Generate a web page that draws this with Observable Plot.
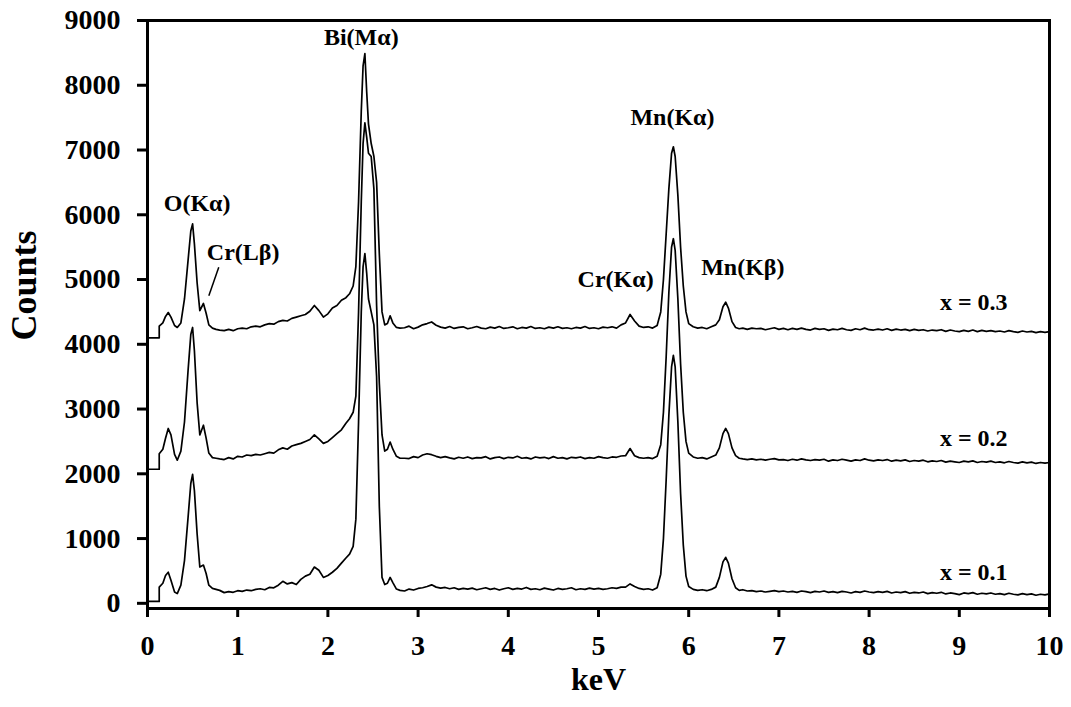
<!DOCTYPE html>
<html>
<head>
<meta charset="utf-8">
<script src="https://cdn.jsdelivr.net/npm/d3@7"></script>
<script src="https://cdn.jsdelivr.net/npm/@observablehq/plot@0.6"></script>
<style>
  html, body { margin: 0; padding: 0; background: #ffffff; }
  #chart svg { display: block; }
</style>
</head>
<body>
<div id="chart"></div>
<script>
// ---- Energy axis (keV), shared by the three spectra ----
const keV = [
  // 0 – 0.8
  0, 0.13, 0.13, 0.17, 0.2, 0.23, 0.26, 0.3, 0.33, 0.37, 0.41, 0.45, 0.48, 0.5, 0.52, 0.55, 0.58, 0.62, 0.65, 0.68, 0.72, 0.76, 0.8,
  // 0.85 – 2.2
  0.85, 0.9, 0.95, 1.0, 1.05, 1.1, 1.15, 1.2, 1.25, 1.3, 1.35, 1.4, 1.45, 1.5, 1.55, 1.6, 1.65, 1.7, 1.75, 1.8, 1.85, 1.9, 1.95, 2.0, 2.05, 2.1, 2.15, 2.2,
  // Bi region
  2.24, 2.28, 2.31, 2.34, 2.37, 2.39, 2.41, 2.43, 2.45, 2.48, 2.51, 2.54, 2.57, 2.6, 2.63, 2.66, 2.69, 2.72, 2.76, 2.8,
  // 2.85 – 5.25
  2.85, 2.9, 2.95, 3.0, 3.05, 3.1, 3.15, 3.2, 3.25, 3.3,
  3.35, 3.4, 3.45, 3.5, 3.55, 3.6, 3.65, 3.7, 3.75, 3.8,
  3.85, 3.9, 3.95, 4.0, 4.05, 4.1, 4.15, 4.2, 4.25, 4.3,
  4.35, 4.4, 4.45, 4.5, 4.55, 4.6, 4.65, 4.7, 4.75, 4.8,
  4.85, 4.9, 4.95, 5.0, 5.05, 5.1, 5.15, 5.2, 5.25,
  // Cr Ka / Mn region
  5.3, 5.35, 5.4, 5.45, 5.5, 5.55, 5.6, 5.65, 5.69, 5.72,
  5.75, 5.78, 5.81, 5.83, 5.85, 5.88, 5.91, 5.94, 5.97, 6.0,
  6.05, 6.1, 6.15, 6.2, 6.25, 6.3, 6.34, 6.38, 6.41, 6.44,
  6.48, 6.52, 6.56, 6.6, 6.65,
  // 6.7 – 10
  6.7, 6.75, 6.8, 6.85, 6.9, 6.95, 7.0, 7.05, 7.1, 7.15,
  7.2, 7.25, 7.3, 7.35, 7.4, 7.45, 7.5, 7.55, 7.6, 7.65,
  7.7, 7.75, 7.8, 7.85, 7.9, 7.95, 8.0, 8.05, 8.1, 8.15,
  8.2, 8.25, 8.3, 8.35, 8.4, 8.45, 8.5, 8.55, 8.6, 8.65,
  8.7, 8.75, 8.8, 8.85, 8.9, 8.95, 9.0, 9.05, 9.1, 9.15,
  9.2, 9.25, 9.3, 9.35, 9.4, 9.45, 9.5, 9.55, 9.6, 9.65,
  9.7, 9.75, 9.8, 9.85, 9.9, 9.95, 10.0
];

// ---- Counts, x = 0.1 ----
const counts01 = [
  30, 30, 250, 310, 430, 480, 355, 175, 150, 280, 660, 1330, 1850, 1990, 1740, 1075, 560, 590, 460, 280, 230, 215, 200,
  165, 180, 170, 195, 185, 205, 195, 215, 225, 210, 245, 240, 280, 340, 300, 320, 290, 370, 420, 450, 560, 510, 400, 430, 480, 540, 620, 700,
  760, 880, 1300, 2800, 4500, 5200, 5400, 5100, 4700, 4500, 4300, 3500, 1500, 400, 290, 310, 400, 320, 220, 200,
  190, 220, 205, 230, 240, 260, 285, 250, 235, 245,
  225, 240, 215, 230, 220, 235, 210, 225, 240, 215,
  230, 205, 225, 240, 215, 230, 220, 245, 215, 225,
  210, 235, 220, 205, 230, 215, 225, 240, 210, 225,
  215, 235, 220, 230, 215, 225, 240, 230, 250,
  250, 300, 260, 230, 215, 225, 205, 240, 450, 1000,
  1900, 2900, 3650, 3830, 3650, 2800, 1700, 900, 420, 260,
  215, 200, 210, 195, 215, 250, 400, 640, 710, 620,
  380, 240, 200, 210, 190,
  195, 180, 190, 175, 185, 195, 180, 190, 175, 185,
  170, 190, 180, 165, 185, 175, 190, 170, 180, 165,
  185, 175, 160, 180, 170, 190, 175, 165, 180, 170,
  185, 160, 175, 165, 180, 155, 170, 160, 175, 150,
  165, 155, 170, 145, 160, 150, 135, 160, 150, 165,
  140, 155, 145, 160, 140, 150, 135, 155, 140, 130,
  150, 135, 145, 125, 140, 130, 145
];

// ---- Counts, x = 0.2 ----
const counts02 = [
  2070, 2070, 2310, 2380, 2550, 2700, 2600, 2300, 2210, 2350, 2800, 3600, 4150, 4260, 3900, 3100, 2600, 2750, 2550, 2320, 2250, 2240, 2230,
  2220, 2250, 2230, 2270, 2260, 2290, 2280, 2300, 2290, 2310, 2330, 2320, 2370, 2400, 2380, 2430, 2450, 2470, 2500, 2530, 2600, 2540, 2470, 2500, 2560, 2620, 2680, 2780,
  2850, 2950, 3200, 4500, 6200, 7100, 7420, 7200, 6950, 6900, 6400, 4600, 3400, 2600, 2350, 2380, 2490, 2380, 2270, 2240,
  2240, 2235, 2265, 2250, 2290, 2310, 2295, 2270, 2250, 2265,
  2245, 2230, 2255, 2240, 2260, 2235, 2250, 2245, 2265, 2230,
  2250, 2260, 2235, 2255, 2245, 2270, 2240, 2250, 2230, 2260,
  2245, 2255, 2235, 2265, 2240, 2250, 2230, 2255, 2245, 2260,
  2235, 2250, 2240, 2265, 2250, 2240, 2260, 2255, 2275,
  2280, 2390, 2280, 2250, 2240, 2250, 2235, 2270, 2450, 2950,
  3800, 4800, 5500, 5630, 5450, 4700, 3700, 2950, 2500, 2320,
  2260, 2240, 2250, 2230, 2260, 2290, 2400, 2620, 2700, 2620,
  2400, 2280, 2240, 2230, 2220,
  2230, 2215, 2225, 2210, 2225, 2235, 2215, 2220, 2205, 2225,
  2210, 2230, 2215, 2205, 2220, 2210, 2225, 2195, 2215, 2205,
  2225, 2210, 2195, 2215, 2205, 2230, 2210, 2200, 2215, 2205,
  2220, 2195, 2210, 2200, 2215, 2190, 2205, 2195, 2210, 2185,
  2200, 2190, 2205, 2180, 2195, 2185, 2175, 2195, 2185, 2200,
  2175, 2190, 2180, 2195, 2175, 2185, 2170, 2190, 2175, 2165,
  2185, 2170, 2180, 2160, 2175, 2165, 2175
];

// ---- Counts, x = 0.3 ----
const counts03 = [
  4100, 4100, 4280, 4330, 4430, 4490, 4420, 4290, 4260, 4330, 4700, 5300, 5750, 5860, 5550, 4950, 4520, 4630, 4480, 4300, 4250, 4230, 4220,
  4210, 4230, 4210, 4240, 4250, 4240, 4270, 4280, 4270, 4300, 4320, 4310, 4350, 4370, 4360, 4400, 4420, 4440, 4460, 4510, 4600, 4520, 4420, 4470, 4560, 4600, 4680, 4720,
  4780, 4900, 5200, 6200, 7600, 8300, 8490, 7900, 7400, 7100, 6900, 6500, 5400, 4500, 4300, 4320, 4440, 4330, 4260, 4250,
  4255, 4280, 4240, 4265, 4300, 4320, 4345, 4295, 4265, 4250,
  4275, 4245, 4260, 4270, 4240, 4255, 4275, 4250, 4240, 4265,
  4250, 4275, 4245, 4255, 4270, 4240, 4260, 4250, 4275, 4245,
  4255, 4240, 4265, 4250, 4270, 4245, 4255, 4240, 4260, 4250,
  4275, 4245, 4255, 4240, 4265, 4255, 4270, 4250, 4300,
  4330, 4460, 4360, 4280, 4260, 4270, 4250, 4290, 4500, 5000,
  5700, 6400, 6950, 7050, 6900, 6300, 5500, 4900, 4500, 4320,
  4270, 4250, 4260, 4240, 4270, 4300, 4380, 4580, 4650, 4560,
  4350, 4260, 4240, 4250, 4230,
  4250, 4240, 4245, 4225, 4240, 4255, 4230, 4245, 4225, 4245,
  4230, 4250, 4230, 4220, 4245, 4230, 4240, 4215, 4235, 4225,
  4245, 4225, 4215, 4240, 4225, 4250, 4225, 4220, 4235, 4220,
  4240, 4215, 4235, 4220, 4230, 4210, 4230, 4215, 4225, 4205,
  4220, 4210, 4225, 4200, 4220, 4205, 4195, 4215, 4200, 4220,
  4195, 4215, 4200, 4210, 4195, 4205, 4190, 4210, 4195, 4185,
  4205, 4190, 4200, 4180, 4195, 4185, 4195
];

const seriesNames = ["x = 0.1", "x = 0.2", "x = 0.3"];

// ---- Peak annotations (label, keV, counts) ----
const peakLabels = ["O(Kα)", "Cr(Lβ)", "Bi(Mα)", "Cr(Kα)", "Mn(Kα)", "Mn(Kβ)"];
const peakLabelKeV = [0.55, 1.06, 2.37, 5.19, 5.82, 6.60];
const peakLabelCounts = [6170, 5420, 8735, 5010, 7500, 5190];

// series labels
const seriesLabelKeV = [9.16, 9.16, 9.16];
const seriesLabelCounts = [480, 2550, 4650];

// leader line for Cr(Lβ)
const leaderKeV = [0.79, 0.68];
const leaderCounts = [5190, 4750];

// ticks
const xTicks = [0, 1, 2, 3, 4, 5, 6, 7, 8, 9, 10];
const yTicks = [0, 1000, 2000, 3000, 4000, 5000, 6000, 7000, 8000, 9000];

// ---- build table ----
const seriesCounts = [counts01, counts02, counts03];
const rows = [];
seriesCounts.forEach((arr, s) => {
  keV.forEach((k, i) => {
    if (arr[i] != null) rows.push({series: seriesNames[s], keV: k, counts: arr[i]});
  });
});

const peakRows = peakLabels.map((t, i) => ({t, k: peakLabelKeV[i], c: peakLabelCounts[i]}));
const seriesLabelRows = seriesNames.map((t, i) => ({t, k: seriesLabelKeV[i], c: seriesLabelCounts[i]}));
const leaderRows = [{x1: leaderKeV[0], y1: leaderCounts[0], x2: leaderKeV[1], y2: leaderCounts[1]}];

const FONT = "'Liberation Serif', 'Times New Roman', Times, serif";

const chart = Plot.plot({
  width: 1071,
  height: 707,
  marginLeft: 147,
  marginRight: 22,
  marginTop: 20,
  marginBottom: 99,
  style: {fontFamily: FONT, fontWeight: "bold", color: "black", background: "white"},
  x: {domain: [0, 10]},
  y: {domain: [-80, 9000]},
  marks: [
    Plot.line(rows, {x: "keV", y: "counts", z: "series", stroke: "black", strokeWidth: 1.7, curve: "linear"}),
    Plot.frame({stroke: "black", strokeWidth: 3}),
    Plot.axisX({ticks: xTicks, tickSize: 9, tickPadding: 18, strokeWidth: 3, fontSize: 28, fontWeight: "bold", fontFamily: FONT, label: null, tickFormat: d => String(d)}),
    Plot.axisY({ticks: yTicks, tickSize: 10, tickPadding: 17, strokeWidth: 3, fontSize: 28, fontWeight: "bold", fontFamily: FONT, label: null, tickFormat: d => String(d)}),
    Plot.text(peakRows, {x: "k", y: "c", text: "t", fontSize: 24, fontWeight: "bold", fontFamily: FONT, fill: "black"}),
    Plot.text(seriesLabelRows, {x: "k", y: "c", text: "t", fontSize: 24, fontWeight: "bold", fontFamily: FONT, fill: "black"}),
    Plot.link(leaderRows, {x1: "x1", y1: "y1", x2: "x2", y2: "y2", stroke: "black", strokeWidth: 1.5}),
    Plot.text(["Counts"], {frameAnchor: "left", textAnchor: "middle", lineAnchor: "middle", rotate: -90, dx: -123, dy: -29, fontSize: 36, fontWeight: "bold", fontFamily: FONT, fill: "black"}),
    Plot.text(["keV"], {frameAnchor: "bottom", textAnchor: "middle", dy: 81, fontSize: 32, fontWeight: "bold", fontFamily: FONT, fill: "black"})
  ]
});
document.getElementById("chart").appendChild(chart);
</script>
</body>
</html>
